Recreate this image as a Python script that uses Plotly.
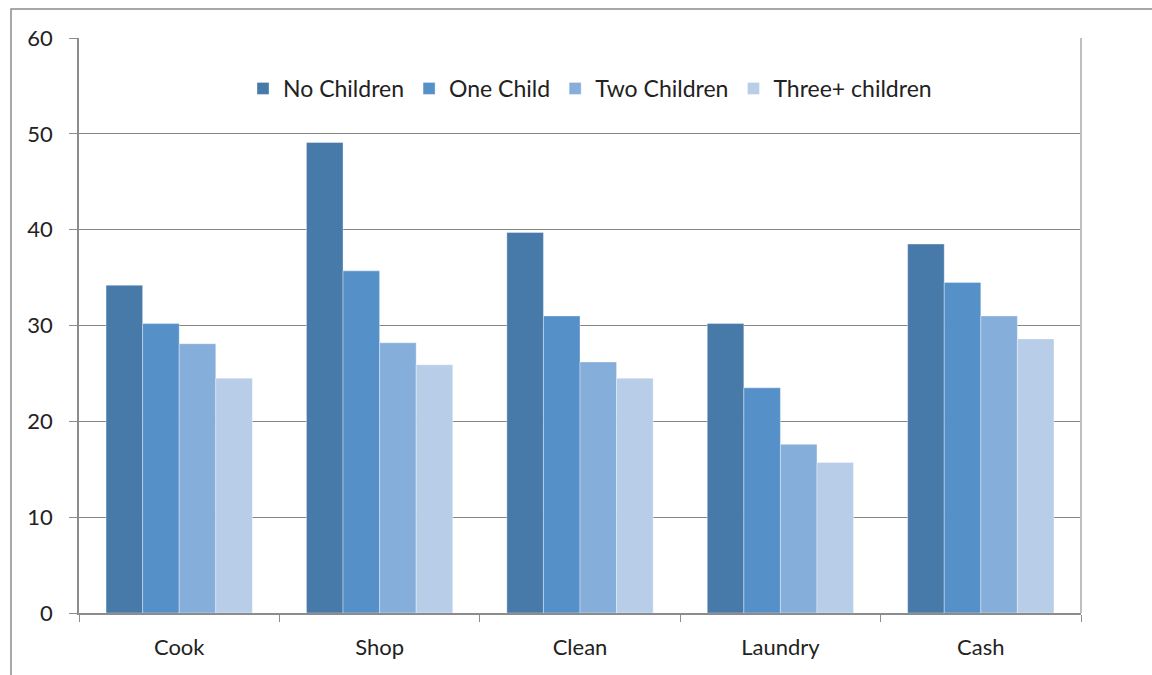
import plotly.graph_objects as go

categories = ["Cook", "Shop", "Clean", "Laundry", "Cash"]
series_names = ["No Children", "One Child", "Two Children", "Three+ children"]
no_children = [34.2, 49.1, 39.7, 30.2, 38.5]
one_child = [30.2, 35.7, 31.0, 23.5, 34.5]
two_children = [28.1, 28.2, 26.2, 17.6, 31.0]
three_children = [24.5, 25.9, 24.5, 15.7, 28.6]
colors = ["#4779A9", "#5591C8", "#86AEDB", "#B8CDE7"]
y_ticks = [0, 10, 20, 30, 40, 50, 60]

W, H = 1152, 675
L, R, T, B = 79, 1081, 38, 613

fig = go.Figure()
for name, vals, col in zip(series_names, [no_children, one_child, two_children, three_children], colors):
    fig.add_trace(go.Bar(x=categories, y=vals, name=name,
                         marker=dict(color=col, line=dict(width=0.6, color="rgba(255,255,255,0.6)"))))

font_family = "Lato, 'Open Sans', sans-serif"
pw = R - L
ph = B - T
fig.update_layout(
    width=W, height=H,
    margin=dict(l=L, r=W - R, t=T, b=H - B, autoexpand=False),
    paper_bgcolor="white", plot_bgcolor="white",
    barmode="group", bargap=0.27, bargroupgap=0,
    font=dict(family=font_family, size=22, color="#222222"),
    showlegend=True,
    legend=dict(orientation="h", x=0.51, xanchor="center", y=(B - 67) / ph, yanchor="top",
                font=dict(size=23, color="#222222"), bgcolor="rgba(0,0,0,0)",
                itemwidth=30, traceorder="normal"),
    xaxis=dict(showgrid=False, showline=True, linecolor="#8C8C8C", linewidth=1.5,
               ticks="outside", ticklen=7, tickcolor="#8C8C8C", tickson="boundaries",
               tickfont=dict(size=22), ticklabelstandoff=14, fixedrange=True),
    yaxis=dict(range=[0, 60], tickvals=y_ticks, showgrid=True, gridcolor="#868686", gridwidth=1.2,
               showline=True, linecolor="#8C8C8C", linewidth=1.5,
               ticks="outside", ticklen=8, tickcolor="#8C8C8C",
               tickfont=dict(size=22), ticklabelstandoff=12, zeroline=False, fixedrange=True),
    shapes=[
        dict(type="line", xref="paper", yref="paper", x0=1, x1=1, y0=0, y1=1,
             line=dict(color="#BFBFBF", width=2)),
        dict(type="rect", xref="paper", yref="paper",
             x0=(11 - L) / pw, x1=(W + 20 - L) / pw,
             y0=(B - (H + 20)) / ph, y1=(B - 9) / ph,
             line=dict(color="#8C8C8C", width=1.5), fillcolor="rgba(0,0,0,0)", layer="below"),
    ],
)

fig.write_html("out.html")
